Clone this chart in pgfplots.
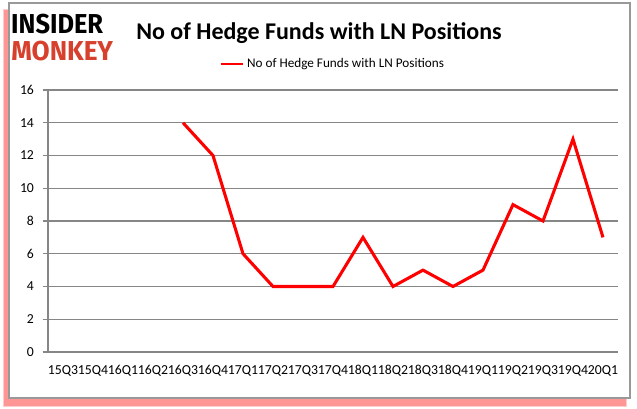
\documentclass[border=0pt]{standalone}
\usepackage{pgfplots}
\pgfplotsset{compat=1.18}
\usepackage{fontspec}
\setmainfont{Carlito}
\newfontfamily\logofont{Fira Sans}
\definecolor{imred}{RGB}{214,64,44}
\definecolor{gridgrey}{RGB}{134,134,134}
\begin{document}
\begin{tikzpicture}[x=0.75pt,y=0.75pt]
\path[use as bounding box] (0,0) rectangle (637,408);
% shadow and frame
\fill[red!70!white,opacity=0.6] (4,2) rectangle (626,398);
\fill[red!40!white,opacity=0.5] (3,1) rectangle (627,399);
\filldraw[fill=white,draw=gray!80,line width=0.9pt] (9,10) rectangle (630,405);
% logo
\node[anchor=base west,inner sep=0pt,text depth=0pt,text height=15pt,text=black,font=\logofont\bfseries\fontsize{20.5}{21}\selectfont,xscale=0.93] at (11,374) {INSIDER};
\node[anchor=base west,inner sep=0pt,text depth=0pt,text height=15pt,text=imred,font=\logofont\bfseries\fontsize{20.5}{21}\selectfont,xscale=0.96] at (11,347) {MONKEY};
% title
\node[font=\bfseries\fontsize{18}{20}\selectfont] at (319,375) {No of Hedge Funds with LN Positions};
\begin{axis}[
  at={(36pt,42pt)}, anchor=south west,
  scale only axis, width=427.5pt, height=196.5pt,
  xmin=0, xmax=19, ymin=0, ymax=16,
  axis x line*=bottom, axis y line*=left,
  axis line style={gridgrey,line width=0.8pt,-},
  xtick={0.5,1.5,...,18.5},
  xticklabels={15Q3,15Q4,16Q1,16Q2,16Q3,16Q4,17Q1,17Q2,17Q3,17Q4,18Q1,18Q2,18Q3,18Q4,19Q1,19Q2,19Q3,19Q4,20Q1},
  x tick style={draw=none},
  extra x ticks={0,1,...,19}, extra x tick labels={},
  extra x tick style={major tick length=4pt, tick style={gridgrey,line width=0.8pt}, tick align=outside, xticklabels={}},
  ytick={0,2,...,16},
  ymajorgrids, grid style={gridgrey,line width=0.8pt},
  y tick style={gridgrey,line width=0.8pt}, tick align=outside, major tick length=4pt,
  tick label style={font=\fontsize{10.3}{11}\selectfont},
  /pgf/number format/assume math mode=true,
  xticklabel style={yshift=-6pt, inner sep=0pt},
  yticklabel style={xshift=-3pt},
  legend style={at={(0.5,1.0)}, anchor=south, yshift=11pt, draw=none, fill=none, font=\fontsize{9.9}{11}\selectfont},
  legend cell align=left,
  legend image post style={line width=1.8pt},
  clip=false,
]
\addplot[red, line width=2.3pt] coordinates {
(4.5,14) (5.5,12) (6.5,6) (7.5,4) (8.5,4) (9.5,4) (10.5,7) (11.5,4) (12.5,5) (13.5,4) (14.5,5) (15.5,9) (16.5,8) (17.5,13) (18.5,7)
};
\addlegendentry{No of Hedge Funds with LN Positions}
\end{axis}
\end{tikzpicture}
\end{document}
